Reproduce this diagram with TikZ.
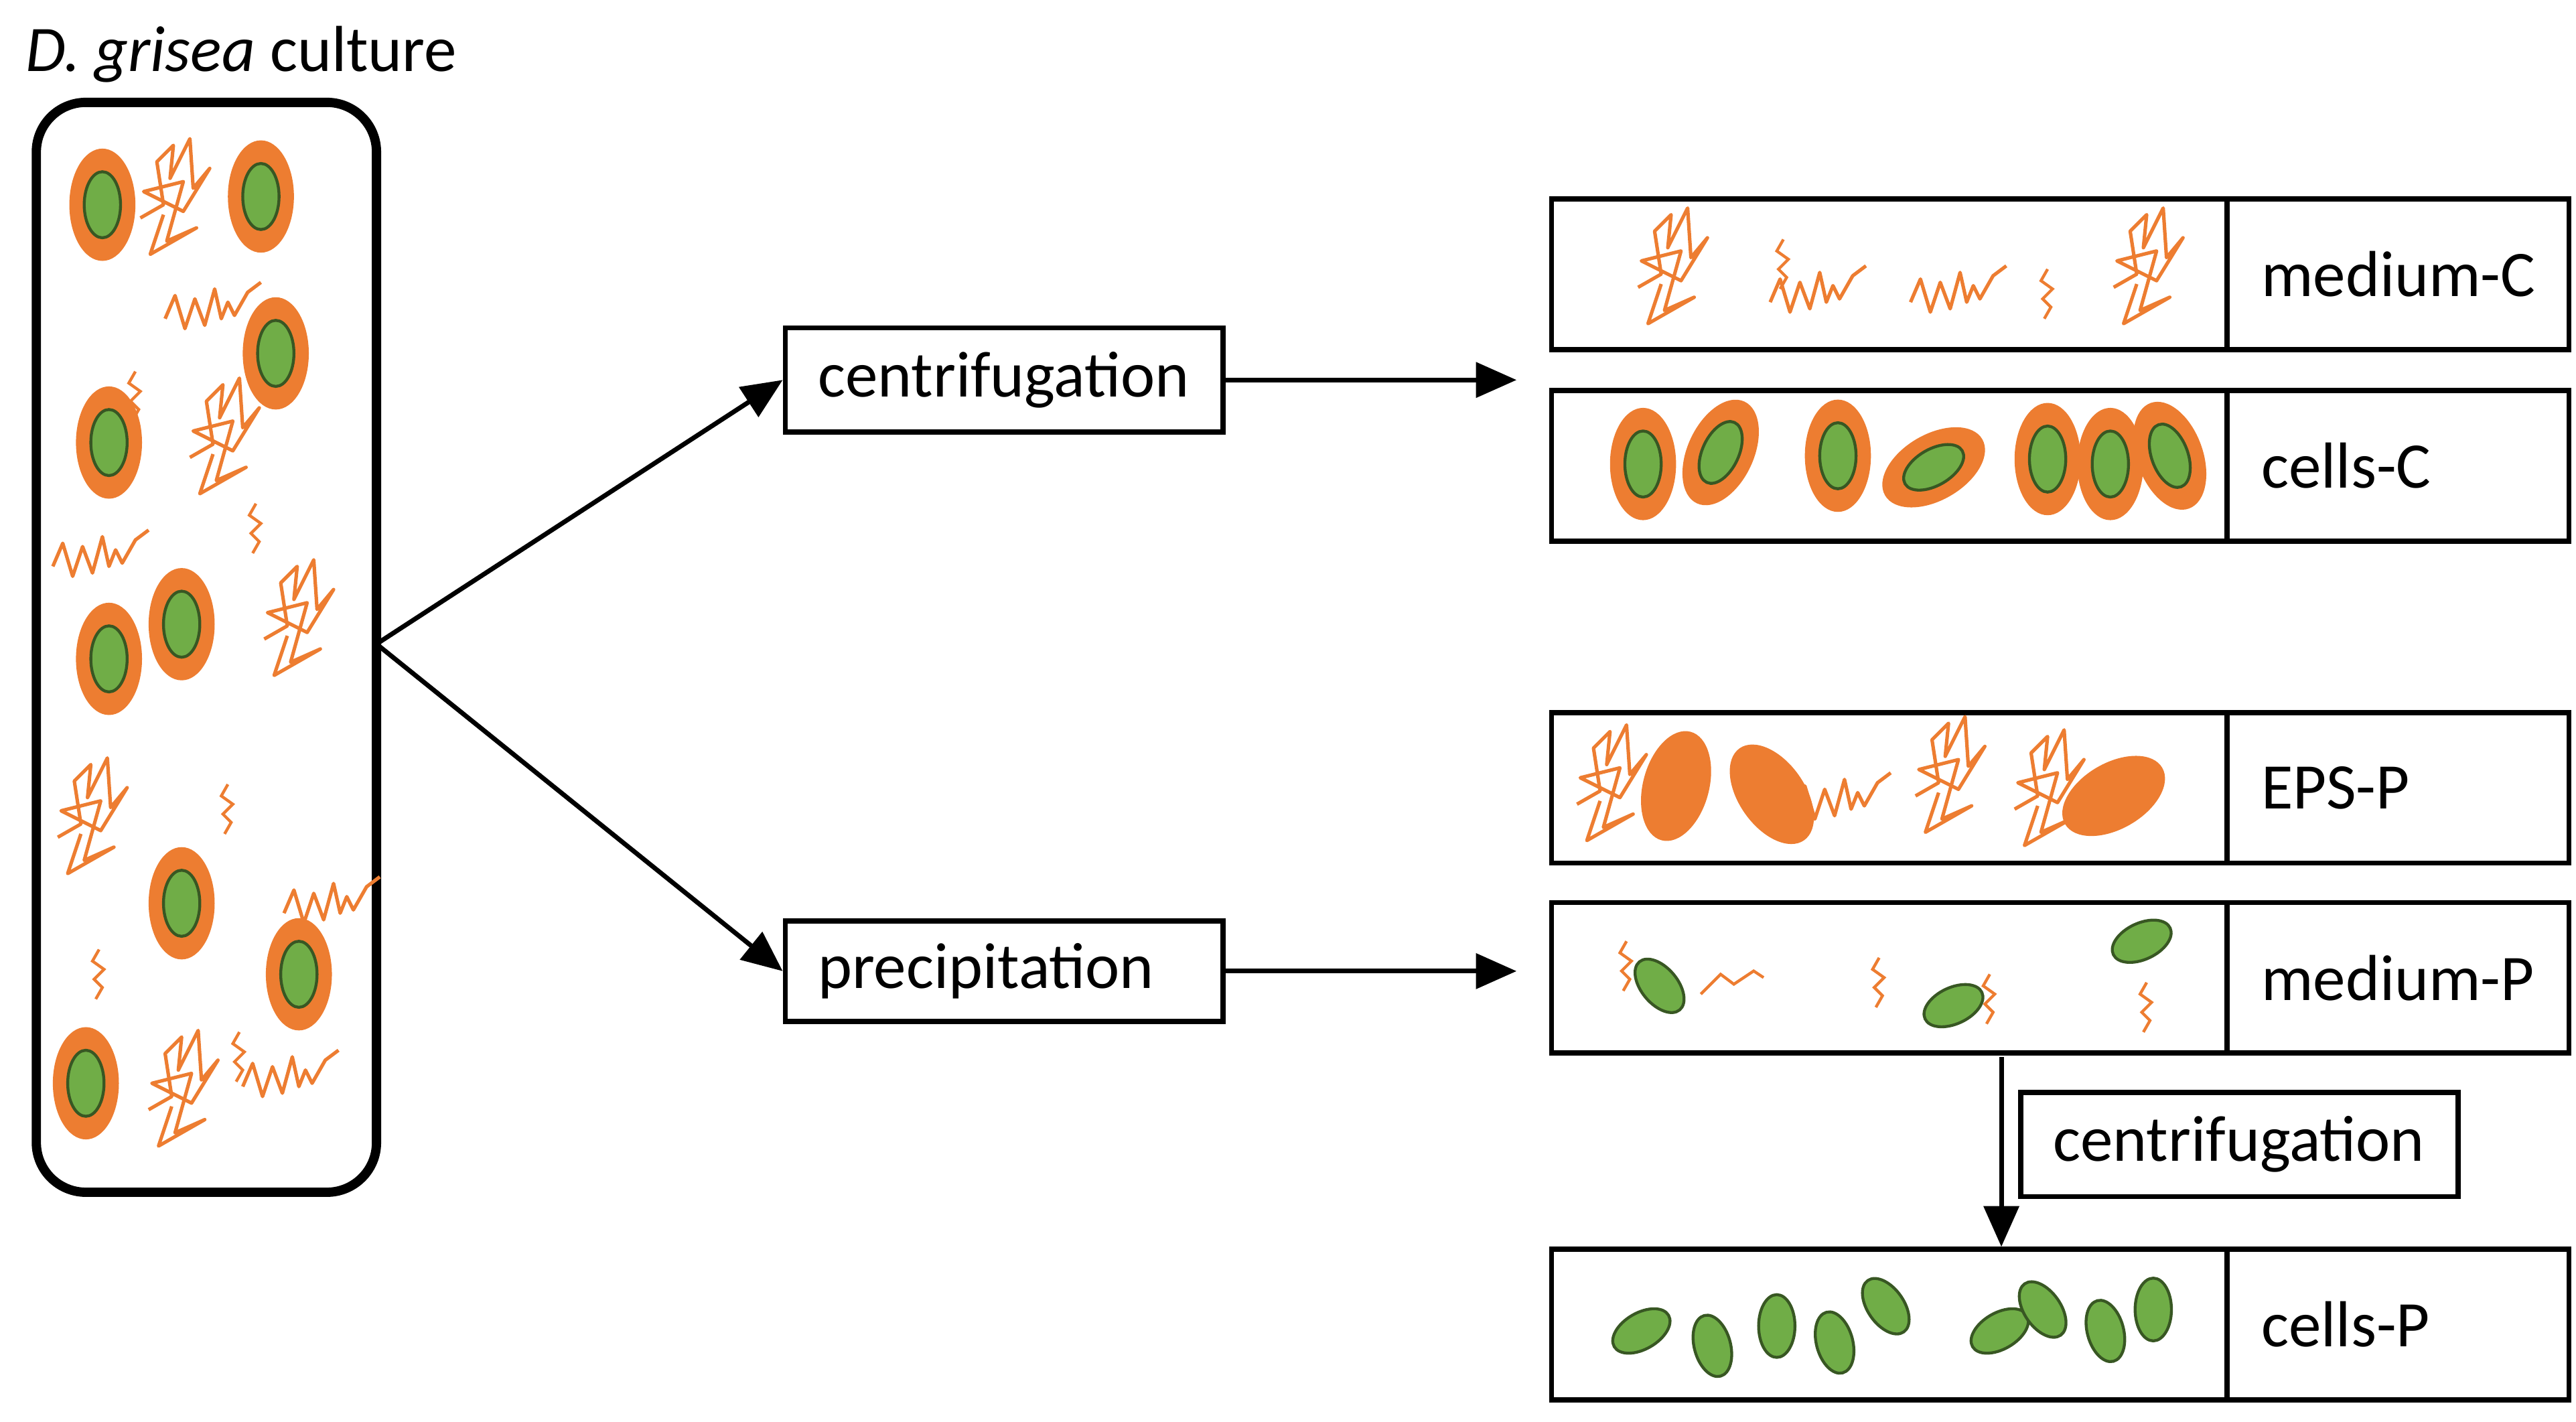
\documentclass[tikz,border=0pt]{standalone}
\usepackage{fontspec}
\setmainfont{Carlito}
\usetikzlibrary{arrows.meta}
\definecolor{org}{RGB}{237,125,49}
\definecolor{grn}{RGB}{112,173,71}
\definecolor{dgr}{RGB}{56,87,35}
\begin{document}
\begin{tikzpicture}[x=0.01cm,y=-0.01cm,font=\fontsize{11.2}{13}\selectfont,
 box/.style={draw,line width=0.9pt,inner sep=0pt},
 arr/.style={line width=0.8pt,-{Triangle[length=7pt,width=6pt]}},
 cell/.pic={\fill[org] (0,0) ellipse[x radius=20,y radius=34];
            \draw[dgr,fill=grn,line width=0.5pt] (0,0) ellipse[x radius=11,y radius=20];},
 eps/.pic={\fill[org] (0,0) ellipse[x radius=20,y radius=34];},
 bact/.pic={\draw[dgr,fill=grn,line width=0.5pt] (0,0) ellipse[x radius=11,y radius=19];},
 tangle/.pic={\draw[org,line width=0.6pt,line join=round] (-20,12)--(-6,4)--(-10,-22)--(0,-32)--(-2,-12)--(10,-36)--(12,-6)--(22,-18)--(6,8)--(-18,-4)--(6,-10)--(-4,26)--(14,18)--(-14,34)--(-6,10);},
 wave/.pic={\draw[org,line width=0.6pt,line join=round] (-28,8)--(-22,-6)--(-16,14)--(-10,-4)--(-4,12)--(2,-10)--(6,8)--(10,-2)--(14,6)--(22,-8)--(30,-14);},
 squig/.pic={\draw[org,line width=0.5pt] (0,-15)--(-4,-8)--(3,-3)--(-3,3)--(2,8)--(-2,15);}
]
\useasboundingbox (0,0) rectangle (1560,861);
\node[anchor=west] (title) at (3,33) {\textit{D. grisea} culture};
\draw[line width=1.6pt,rounded corners=0.3cm] (22,62) rectangle (228,722);
\coordinate (cr) at (228,390);
\foreach \x/\y in {62/124,158/119,167/214,66/268,110/378,66/399,110/547,181/590,52/656} \pic at (\x,\y) {cell};
\foreach \x/\y in {105/120,135/265,180/375,55/495,110/660} \pic at (\x,\y) {tangle};
\foreach \x/\y in {128/185,60/335,175/650,200/545} \pic at (\x,\y) {wave};
\foreach \x/\y in {82/240,155/320,138/490,60/590,145/640} \pic at (\x,\y) {squig};
\node[box,minimum width=2.65cm,minimum height=0.63cm,anchor=north west] (c1) at (474,197) {};
\node[anchor=west] at (c1.west) {~centrifugation};
\node[box,minimum width=2.65cm,minimum height=0.61cm,anchor=north west] (p1) at (474,556) {};
\node[anchor=west] at (p1.west) {~precipitation};
\draw[arr] (cr) -- (c1.west);
\draw[arr] (cr) -- (p1.west);
\draw[arr] (c1.east) -- ++(1.76cm,0);
\draw[arr] (p1.east) -- ++(1.76cm,0);
\foreach \n/\y/\lab in {mc/119/medium-C,cc/235/cells-C,ep/430/EPS-P,mp/545/medium-P,cp/755/cells-P}{
  \node[box,minimum width=4.09cm,minimum height=0.91cm,anchor=north west] (\n a) at (938,\y) {};
  \node[box,minimum width=2.07cm,minimum height=0.91cm,anchor=north west] (\n b) at (1347,\y) {};
  \node[anchor=west] at ([xshift=0.1cm]\n b.west) {\lab};
}
\foreach \x in {1012,1300} \pic at (\x,162) {tangle};
\foreach \x in {1100,1185} \pic at (\x,175) {wave};
\pic at (1080,160) {squig}; \pic at (1240,178) {squig};
\pic at (995,281) {cell}; \pic[rotate=-25] at (1042,274) {cell};
\pic at (1113,276) {cell}; \pic[rotate=-60] at (1171,283) {cell};
\pic at (1240,278) {cell}; \pic at (1278,281) {cell}; \pic[rotate=20] at (1314,276) {cell};
\pic at (975,475) {tangle}; \pic at (1180,470) {tangle}; \pic at (1240,478) {tangle};
\pic at (1115,482) {wave};
\pic[rotate=-15] at (1015,476) {eps}; \pic[rotate=35] at (1073,481) {eps}; \pic[rotate=-60] at (1280,482) {eps};
\pic[rotate=40] at (1005,597) {bact}; \pic[rotate=-65] at (1183,609) {bact}; \pic[rotate=-65] at (1297,570) {bact};
\pic at (985,585) {squig}; \pic at (1138,595) {squig}; \pic at (1205,605) {squig}; \pic at (1300,610) {squig};
\draw[org,line width=0.5pt] (1030,602)--(1042,590)--(1050,596)--(1062,588)--(1068,592);
\foreach \x/\y/\r in {994/806/-60,1037/815/15,1076/803/0,1111/813/15,1142/791/35,1211/806/-60,1237/793/35,1275/806/15,1304/793/0} \pic[rotate=\r] at (\x,\y) {bact};
\coordinate (v1) at (1212,640);
\draw[arr] (v1) -- (cpa.north -| v1);
\node[box,minimum width=2.65cm,minimum height=0.63cm,anchor=north west] (c2) at (1222,660) {};
\node[anchor=west] at (c2.west) {~centrifugation};
\end{tikzpicture}
\end{document}
